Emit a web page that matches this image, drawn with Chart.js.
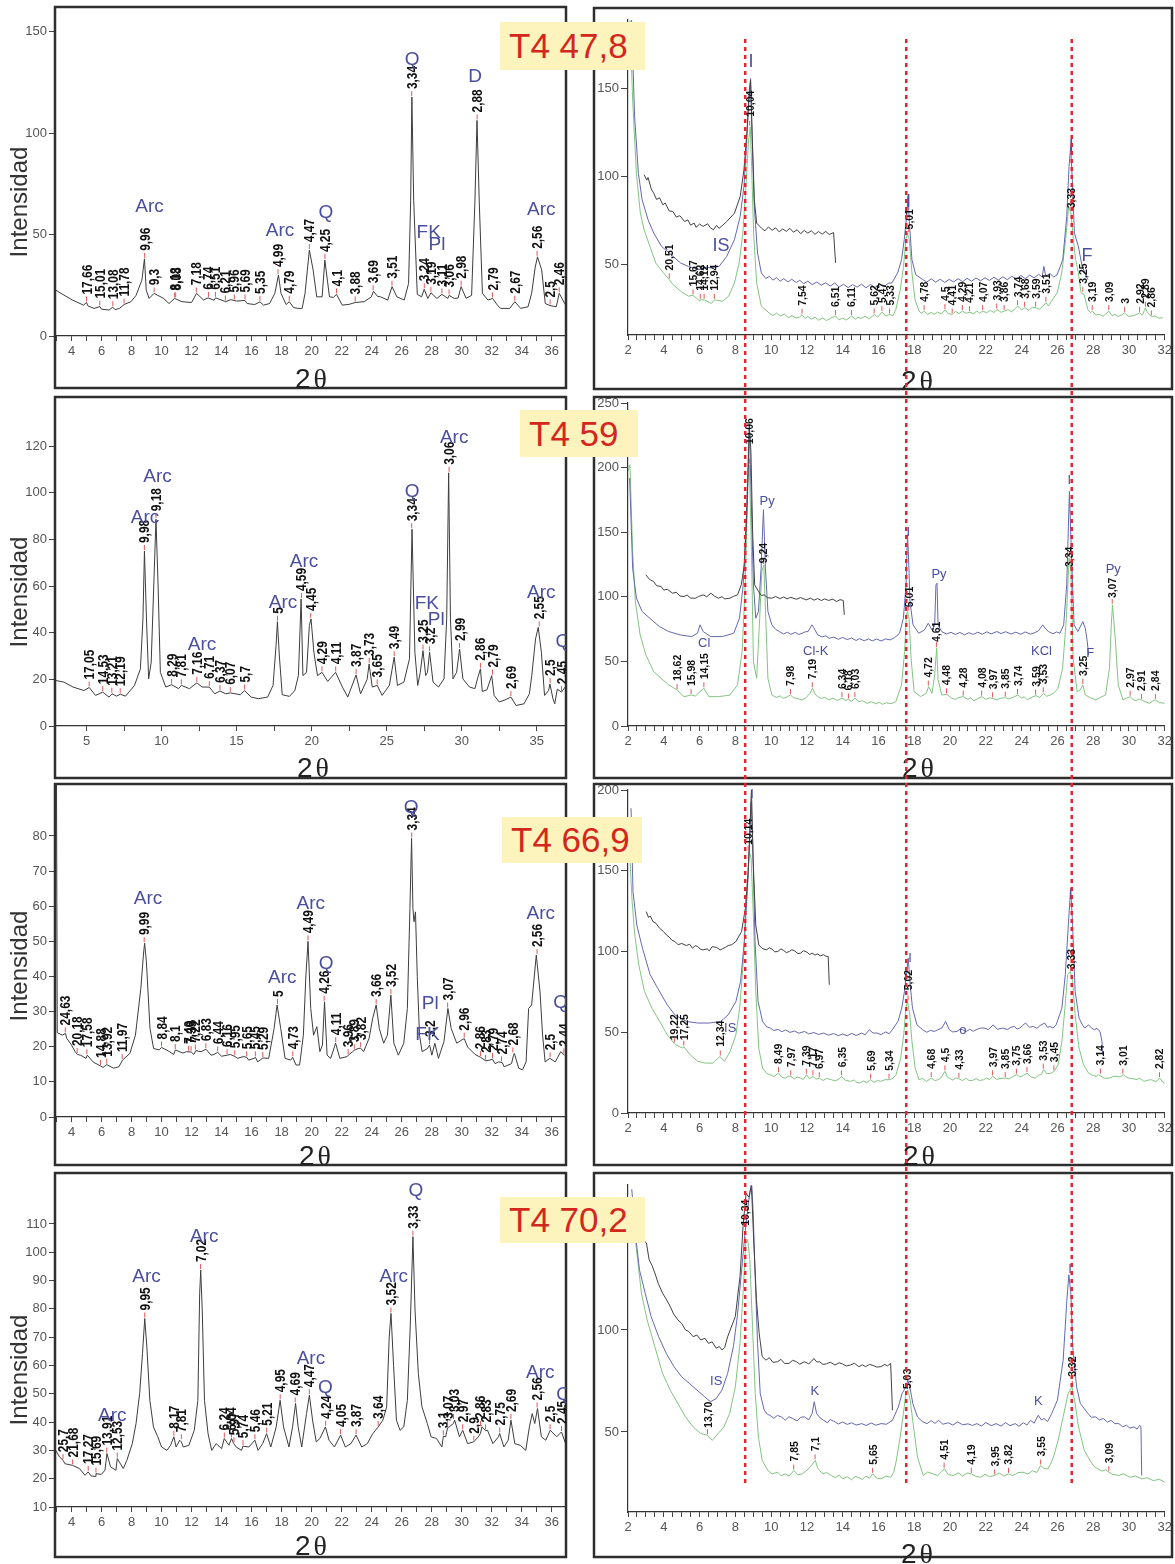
<!DOCTYPE html>
<html>
<head>
<meta charset="utf-8">
<script src="https://cdn.jsdelivr.net/npm/chart.js@4.4.1/dist/chart.umd.min.js"></script>
<style>
  body { margin: 0; background: #fff; }
  #sheet { position: relative; width: 1175px; height: 1564px; overflow: hidden; }
  #sheet canvas { position: absolute; left: 0; top: 0; }
  .tag {
    position: absolute; z-index: 5; box-sizing: border-box;
    background: #fdf3bc; color: #d3271d;
    font: 35px "Liberation Sans", Arial, sans-serif;
    padding-left: 9px; white-space: nowrap;
  }
</style>
</head>
<body>
<div id="sheet">
  <canvas id="l1" width="1175" height="1564"></canvas>
  <canvas id="l2" width="1175" height="1564"></canvas>
  <canvas id="l3" width="1175" height="1564"></canvas>
  <canvas id="l4" width="1175" height="1564"></canvas>
  <canvas id="r1" width="1175" height="1564"></canvas>
  <canvas id="r2" width="1175" height="1564"></canvas>
  <canvas id="r3" width="1175" height="1564"></canvas>
  <canvas id="r4" width="1175" height="1564"></canvas>
  <div class="tag" style="left:500px;top:22px;width:145px;height:48px;line-height:48px">T4 47,8</div>
  <div class="tag" style="left:520px;top:410px;width:118px;height:47px;line-height:47px">T4 59</div>
  <div class="tag" style="left:502px;top:817px;width:140px;height:46px;line-height:46px">T4 66,9</div>
  <div class="tag" style="left:500px;top:1197px;width:145px;height:46px;line-height:46px">T4 70,2</div>
</div>
<script>
const W = 1175, H = 1564;
const LAMBDA = 1.5406; // Cu K-alpha, in angstrom
const FONT = '"Liberation Sans", Arial, sans-serif';

// whole-rock patterns, [2theta, counts]
const l1Trace = [[2.95,22.6],[3.3,21],[4.07,17.7],[4.8,15.2],[5.0,16.5],[5.1,14.8],[5.5,13.6],[5.9,14.5],[6.0,13.2],[6.5,12.8],[6.75,14.2],[6.9,13],[7.2,13.6],[7.5,15.5],[7.96,16.9],[8.3,20],[8.69,27.5],[8.86,38],[8.98,22.6],[9.17,18.5],[9.5,21],[10.14,18.5],[10.5,16],[10.87,18.5],[11.36,16.9],[12.0,16.5],[12.33,21],[12.8,17.7],[13.1,18.8],[13.5,17.6],[13.6,18.8],[14.27,16.9],[14.6,17.9],[15.0,17.2],[15.56,17.5],[15.7,16],[16.2,15.5],[16.56,16.8],[16.8,15.2],[17.2,16],[17.55,21],[17.79,30],[17.96,21],[18.3,15.5],[18.51,16.9],[18.8,14],[19.1,13.6],[19.37,13.6],[19.56,21],[19.85,42.3],[20.1,32.5],[20.34,19.3],[20.7,19.3],[20.88,37.4],[21.19,19.3],[21.45,19],[21.66,20.5],[22.04,15.2],[22.5,15.6],[22.9,16.5],[23.5,16.9],[23.98,19.3],[24.12,22],[24.4,19.5],[24.59,19.3],[25.07,17.7],[25.36,24.3],[25.68,19.3],[26.17,17.7],[26.46,25.9],[26.6,66.9],[26.68,117.7],[26.8,66.9],[27.04,20.5],[27.33,19.3],[27.5,23],[27.74,18.5],[27.95,21.3],[28.35,18.5],[28.68,20.5],[29.08,18.5],[29.16,20],[29.5,18.5],[29.76,18.7],[29.96,24.3],[30.29,18.6],[30.66,20],[30.88,66],[31.02,106.2],[31.17,66],[31.38,21],[31.75,17.7],[32.06,18.5],[32.4,15],[32.6,13.6],[33.2,13.6],[33.54,16.9],[33.93,13.6],[34.42,14.4],[34.66,21],[34.9,34],[35.05,39],[35.33,32.5],[35.57,16],[35.88,15],[36.3,14.4],[36.5,21],[36.9,15.5]];
const l2Trace = [[2.95,19.5],[3.5,18.8],[4.1,16.7],[4.83,15.2],[5.18,16.5],[5.6,13.1],[6.08,14.5],[6.5,12.4],[6.7,13.8],[7.0,12.8],[7.25,13.6],[7.6,12.8],[8.2,17.4],[8.59,24.5],[8.76,45.9],[8.86,75],[9.0,45],[9.14,20.2],[9.31,27.3],[9.48,60],[9.63,88.6],[9.77,60],[9.92,23],[10.28,16.7],[10.67,17.7],[11.13,16],[11.32,17.4],[11.86,16],[12.35,18.5],[12.7,16.7],[13.18,16.7],[13.55,13.8],[13.89,15],[14.28,13.8],[14.58,14.2],[15.25,13.4],[15.53,15.2],[15.97,12.4],[16.46,11.7],[17.07,12.4],[17.43,17.4],[17.63,34.5],[17.72,44.7],[17.85,30],[18.04,13.4],[18.52,12.7],[18.88,15.2],[19.12,21.6],[19.3,54.4],[19.42,21.6],[19.66,23],[19.85,43],[19.96,45.9],[20.15,31.6],[20.39,21.6],[20.69,23],[21.07,19.1],[21.6,23],[22.05,16.7],[22.41,12.4],[22.96,21.9],[23.26,13.8],[23.7,20],[23.83,26.6],[24.04,16.7],[24.37,17.4],[24.7,13.1],[25.18,17.4],[25.5,29.5],[25.72,17.4],[26.15,18.8],[26.52,28.8],[26.69,84.3],[26.88,31.6],[27.07,17.4],[27.24,23],[27.42,32.3],[27.6,21.6],[27.72,23],[27.86,31.6],[28.09,18.8],[28.45,16.7],[28.82,20.2],[29.0,45.9],[29.13,108.5],[29.25,45.9],[29.42,20.2],[29.66,23],[29.86,33],[30.08,20.2],[30.52,16.7],[30.88,16],[31.05,20.2],[31.25,24.5],[31.37,14.8],[31.68,15.5],[32.0,21.6],[32.16,13.1],[32.5,10.3],[32.82,11],[33.28,12.4],[33.62,8.8],[34.15,9.5],[34.51,13.8],[34.67,21.6],[34.92,37.3],[35.1,42.3],[35.31,31.6],[35.52,13.1],[35.79,15.2],[35.88,18],[36.08,11.7],[36.2,9.5],[36.37,15.8],[36.65,14.5],[36.9,16.7]];
const l3Trace = [[3.0,94.8],[3.05,24],[3.39,23.3],[3.6,23.8],[3.68,22.4],[4.0,20.5],[4.24,18.6],[4.4,17.8],[4.6,17.6],[4.97,16.7],[5.05,17.6],[5.46,15.6],[5.95,14.5],[6.1,14.1],[6.35,14.9],[6.8,13.9],[7.16,14.3],[7.4,16.2],[7.89,18.1],[8.26,23.3],[8.62,36.6],[8.79,46.1],[8.87,49.5],[8.99,44.2],[9.23,25.2],[9.47,19.5],[9.84,19.1],[10.0,19.8],[10.45,18.8],[10.81,17.8],[10.92,19.1],[11.42,18.2],[11.66,18.6],[11.97,18.5],[12.15,17.8],[12.28,18.9],[12.64,18.6],[12.96,19.3],[13.3,17.6],[13.49,17.8],[13.74,18.4],[14.0,17.3],[14.37,17.6],[14.58,17.8],[14.85,17.3],[15.07,16.7],[15.44,17.2],[15.68,17],[15.8,16.2],[16.17,16.7],[16.25,17],[16.41,15.7],[16.75,16.8],[17.14,16.7],[17.5,25.2],[17.7,31.9],[17.94,25.2],[18.23,16.7],[18.6,16.2],[18.74,17],[18.96,14.8],[19.2,14.8],[19.45,23.3],[19.62,40.4],[19.76,50],[19.94,30.9],[20.13,23.3],[20.35,25.7],[20.55,18.6],[20.72,20.5],[20.86,32.8],[21.03,17.6],[21.27,16.7],[21.6,21],[21.88,16.7],[22.37,17.2],[22.44,17.6],[22.73,18.6],[22.84,19],[23.1,19.5],[23.27,19.6],[23.46,18.6],[23.83,22.4],[24.07,28.1],[24.3,31.9],[24.51,25.2],[24.8,21],[25.05,23.3],[25.28,34.7],[25.48,21],[25.78,17.6],[26.14,21],[26.38,30.9],[26.55,59.4],[26.66,79.3],[26.75,59.4],[26.82,55.6],[26.92,58.4],[27.04,40],[27.19,23.3],[27.36,18.6],[27.72,19.5],[27.86,20.5],[28.01,17.6],[28.21,21],[28.45,16.7],[28.82,21.5],[29.08,30.9],[29.3,25.2],[29.67,21],[30.03,22],[30.17,22.3],[30.4,19.9],[30.89,17.8],[31.25,17],[31.6,16],[31.86,16.2],[32.05,16.5],[32.22,15.2],[32.47,15.7],[32.7,15.5],[32.83,14.3],[33.32,15.2],[33.45,17.5],[33.51,18.1],[33.8,13.9],[34.05,13.4],[34.29,15.7],[34.46,30.9],[34.66,31.9],[34.97,46.1],[35.22,35.6],[35.39,23.3],[35.56,15.7],[35.87,16.7],[36.24,15.7],[36.6,18.6],[36.85,17.6]];
const l4Trace = [[2.95,30],[3.2,27.7],[3.44,26.5],[3.56,25.3],[4.07,24.7],[4.53,23.6],[4.9,21.2],[5.11,22.4],[5.3,21],[5.58,20.8],[5.63,21.8],[5.99,21.5],[6.23,23],[6.36,28.9],[6.6,24.2],[6.96,23],[7.05,27.1],[7.45,23.6],[7.69,26.5],[8.05,32.4],[8.3,39.5],[8.54,50.1],[8.73,64.2],[8.88,76.6],[9.02,66.6],[9.22,47.7],[9.46,38.3],[9.75,34.8],[10.0,31.2],[10.36,30],[10.6,31.8],[10.82,34.8],[10.97,31.2],[11.21,33.6],[11.32,33],[11.45,31.2],[11.82,31.8],[12.18,37.1],[12.42,47.7],[12.54,85.5],[12.61,93.7],[12.71,79.6],[12.86,47.7],[13.1,35.9],[13.34,30],[13.64,32.4],[14.0,30.6],[14.18,34.2],[14.49,31.8],[14.66,34.2],[14.8,32.5],[14.97,31.2],[15.33,30],[15.42,31.5],[15.82,31.2],[16.22,33.6],[16.43,30],[16.74,32.4],[17.0,35.9],[17.28,31.2],[17.64,38.3],[17.9,47.7],[18.13,38.3],[18.49,31.2],[18.73,38.3],[18.93,46.6],[19.1,38.3],[19.34,31.2],[19.66,43],[19.85,49.5],[20.07,40.4],[20.31,33],[20.55,34.2],[20.92,38.3],[21.16,33.6],[21.52,31.2],[21.93,35.4],[22.25,31.2],[22.62,32.4],[22.96,35.4],[23.34,31.2],[23.71,32.4],[24.07,35.9],[24.44,38.3],[24.75,40.7],[25.0,45.4],[25.17,70.1],[25.29,78.4],[25.46,60],[25.65,40.7],[25.89,37.1],[26.14,38.3],[26.38,47.7],[26.57,73.7],[26.75,105.5],[26.89,79.6],[27.11,57.2],[27.35,45.4],[27.71,39.5],[27.96,34.8],[28.32,34.2],[28.68,31.2],[28.78,35],[28.93,34.8],[29.06,38],[29.17,38.3],[29.45,39.5],[29.53,40.7],[29.85,34.8],[30.07,37.1],[30.39,32.4],[30.8,33],[31.11,34.8],[31.25,36],[31.35,38.3],[31.6,37],[31.72,37.1],[32.08,32.4],[32.45,34.8],[32.53,36],[32.81,31.2],[33.1,33.6],[33.28,40.7],[33.54,32.4],[33.9,31.8],[34.27,30],[34.51,38.3],[34.7,43],[34.87,39.5],[35.05,44.8],[35.31,34.8],[35.6,33.6],[35.9,37.1],[36.33,34.8],[36.65,36.5],[37.0,31.2]];

// oriented clay fraction: air-dried (green), glycolated (blue), heated (black)
const r1Black = [[2.9,101],[3.05,98],[3.12,99.5],[3.3,93],[3.44,90.5],[3.6,87],[3.76,88],[3.95,84],[4.08,85],[4.3,80.5],[4.51,80.2],[4.7,77],[4.9,77.8],[5.16,74.5],[5.35,75.4],[5.5,72.4],[5.7,73.6],[5.8,71.2],[6.0,73],[6.2,71.7],[6.45,73.2],[6.6,71],[6.77,69.8],[6.95,72.3],[7.09,70.6],[7.3,72.4],[7.52,74.5],[7.7,76.5],[7.95,79.2],[8.27,88.7],[8.48,103.8],[8.64,124.5],[8.76,143.4],[8.85,154.7],[8.94,124],[9.06,86.8],[9.19,73.6],[9.45,70.8],[9.65,69.2],[9.85,71.4],[10.05,69.5],[10.25,70.9],[10.45,68.6],[10.65,70.3],[10.85,68.9],[11.05,70.6],[11.25,68.4],[11.45,69.8],[11.65,67.6],[11.85,69.4],[12.05,67.9],[12.25,69.2],[12.45,67.2],[12.65,68.8],[12.85,67.3],[13.05,68.9],[13.25,67.1],[13.49,68.2],[13.6,51]];
const r1Blue = [[2.19,192],[2.37,134],[2.58,101.9],[2.79,86.8],[3.12,75.5],[3.44,67.9],[3.87,60.4],[4.3,56.6],[4.94,50.9],[5.37,49],[5.7,48],[6.02,47.2],[6.4,48.5],[6.66,48.1],[7.09,49],[7.52,54.7],[7.95,64.2],[8.27,77.4],[8.48,94.3],[8.64,120.8],[8.76,147.2],[8.85,155.7],[8.94,120.8],[9.06,83],[9.24,56.6],[9.45,45.3],[9.7,42.1],[9.9,43.3],[10.1,41.2],[10.3,42.6],[10.5,40.5],[10.7,42],[10.95,40.2],[11.15,41.7],[11.4,39.8],[11.6,41.1],[11.81,39.2],[12.05,40.6],[12.3,38.6],[12.55,40.1],[12.8,38.3],[13.05,39.7],[13.3,37.8],[13.55,39.5],[13.8,37.3],[14.05,38.8],[14.3,36.9],[14.55,38.6],[14.8,37.2],[15.05,38.9],[15.3,36.8],[15.55,38.7],[15.8,37],[16.05,38.9],[16.3,37.4],[16.55,39.4],[16.75,39.6],[17.07,45.3],[17.29,52.8],[17.44,64.2],[17.57,77.4],[17.65,88.7],[17.74,71.7],[17.87,52.8],[18.08,44.3],[18.47,41.5],[18.7,40.1],[18.95,41.9],[19.2,40],[19.45,41.7],[19.7,39.9],[19.95,41.6],[20.2,40.2],[20.45,42],[20.7,40.3],[20.95,42.2],[21.2,40.6],[21.45,42.4],[21.7,40.8],[21.95,42.5],[22.2,41],[22.45,42.8],[22.7,41.2],[22.95,43.1],[23.2,41.4],[23.45,43.4],[23.7,41.7],[23.95,43.9],[24.2,42],[24.45,44],[24.7,42.5],[24.95,44.5],[25.15,43],[25.24,49],[25.35,43.4],[25.6,44.8],[25.8,42.9],[25.98,44.2],[26.3,52.8],[26.52,77.4],[26.65,105.7],[26.74,117],[26.85,94.3],[26.95,67.9],[27.17,60.4],[27.38,49],[27.7,41.5]];
const r1Green = [[2.1,192],[2.26,143.4],[2.47,101.9],[2.69,79.2],[2.9,69.8],[3.22,60.4],[3.55,50.9],[3.98,45.3],[4.3,41.5],[4.51,38.7],[4.94,34.9],[5.37,32.1],[5.64,32.5],[6.02,29.2],[6.04,30],[6.26,30],[6.66,27.9],[6.83,30],[7.3,29.2],[7.63,32.1],[7.95,39.6],[8.21,50.9],[8.42,67.9],[8.59,94.3],[8.74,120.8],[8.83,128.3],[8.91,105.7],[9.02,67.9],[9.19,39.6],[9.45,26.4],[9.88,22.6],[10.1,21],[10.3,22.4],[10.52,20.8],[10.75,21.9],[10.95,19.9],[11.17,21],[11.4,19.6],[11.6,20.3],[11.73,21.5],[11.9,19.4],[12.05,20.6],[12.24,18.9],[12.45,20.1],[12.65,18.4],[12.89,19.6],[13.1,18.2],[13.35,19.7],[13.6,20.8],[13.8,18.6],[14.0,19.7],[14.18,18.5],[14.35,19.6],[14.5,20.8],[14.7,18.9],[14.85,20.1],[15.03,19.4],[15.25,20.7],[15.45,19.2],[15.6,20.2],[15.77,21.7],[15.95,20.1],[16.2,23],[16.4,20.8],[16.63,21.7],[16.8,20.9],[16.97,24.5],[17.22,35.8],[17.4,49],[17.53,64.2],[17.61,67.9],[17.72,64.2],[17.87,45.3],[18.04,30.2],[18.26,23.6],[18.4,22.4],[18.56,23.6],[18.75,21.7],[18.95,22.9],[19.11,21.7],[19.3,23],[19.5,22],[19.73,24.2],[19.9,22.1],[20.13,21.7],[20.3,23.4],[20.5,22.2],[20.69,23.6],[20.9,22.3],[21.1,23],[21.3,22],[21.5,23.7],[21.65,22.4],[21.84,23.6],[22.05,22.6],[22.25,24],[22.45,22.8],[22.63,24.5],[22.85,22.9],[23.04,23.6],[23.25,24.4],[23.45,23.1],[23.6,24.8],[23.79,26.4],[24.0,24.3],[24.18,25.5],[24.4,24.1],[24.6,25.7],[24.8,25.5],[25.0,24.6],[25.2,26.4],[25.36,28.3],[25.5,26.5],[25.66,29.2],[25.99,33.9],[26.24,45.3],[26.46,64.2],[26.63,83],[26.76,79.2],[26.89,64.2],[27.02,52.8],[27.17,45.3],[27.32,34],[27.49,33],[27.7,24.5],[27.85,22.6],[27.95,23.6],[28.15,21.4],[28.35,21.7],[28.55,20.6],[28.7,21.9],[28.87,23.6],[29.05,21],[29.21,21.7],[29.4,20.5],[29.6,21.5],[29.76,22.6],[29.95,20.6],[30.17,20.8],[30.4,21.5],[30.6,22.6],[30.75,21.3],[30.92,25.5],[31.03,22.6],[31.25,20.5],[31.46,20.8],[31.65,19.6],[31.89,19.8]];

const r2Black = [[3.0,117],[3.2,113.5],[3.43,111.8],[3.6,108.6],[3.85,108],[4.0,105.2],[4.2,105.8],[4.49,102.8],[4.7,103.5],[4.9,100.6],[5.13,100.2],[5.3,101.4],[5.5,99],[5.77,98.9],[5.95,100.3],[6.2,101.5],[6.4,100],[6.63,102.8],[6.85,100.4],[7.05,98.9],[7.25,100.1],[7.4,98.4],[7.69,98.9],[7.9,100.4],[8.12,101.5],[8.33,109.2],[8.5,124.7],[8.63,160.9],[8.72,199.6],[8.78,233.2],[8.87,212.6],[8.97,148],[9.08,109.2],[9.3,104],[9.45,101],[9.61,101.5],[9.8,99.3],[10.04,98.9],[10.25,100.2],[10.5,98.6],[10.7,99.8],[10.89,98.4],[11.1,99.6],[11.4,98.1],[11.65,99.4],[11.96,97.6],[12.2,98.9],[12.4,97.4],[12.6,98.6],[12.81,97.1],[13.0,98.4],[13.2,97.2],[13.45,98.1],[13.66,96.3],[13.85,97.8],[14.03,97.2],[14.09,86]];
const r2Blue = [[2.09,191.9],[2.26,122.2],[2.47,98.9],[2.79,88.6],[3.22,83.4],[3.75,77],[4.28,73.1],[4.92,70.5],[5.56,69.2],[5.88,71.8],[6.03,78.3],[6.2,73.1],[6.63,69.2],[7.27,69.2],[7.91,71.8],[8.23,83.4],[8.44,109.2],[8.61,160],[8.72,207.4],[8.78,233],[8.87,185.2],[9.01,109.2],[9.14,83.4],[9.29,88.6],[9.44,122.2],[9.57,167.4],[9.68,122.2],[9.82,88.6],[10.04,78.3],[10.25,74.8],[10.46,73.1],[10.7,71.2],[10.9,72.6],[11.1,71],[11.35,72.5],[11.55,70.8],[11.74,71.8],[11.9,72.9],[12.06,73.1],[12.28,78.3],[12.38,76.2],[12.6,70.5],[12.85,68.9],[13.05,69.8],[13.24,67.9],[13.5,68.8],[13.75,67.1],[14.0,68.6],[14.25,66.9],[14.5,68.1],[14.75,66.2],[14.94,67.6],[15.2,66],[15.45,67.4],[15.65,65.9],[15.9,67.3],[16.15,65.8],[16.4,67.4],[16.65,66.6],[16.9,68.4],[17.18,71.8],[17.39,83.4],[17.54,109.2],[17.62,148],[17.67,135],[17.76,96.3],[17.93,78.3],[18.25,71.8],[18.57,74.4],[18.78,79.5],[18.99,74.4],[19.14,78.3],[19.21,109.2],[19.27,110.5],[19.33,78.3],[19.53,73.1],[19.8,71.2],[20.05,72.5],[20.3,70.8],[20.55,72.4],[20.8,70.6],[21.05,72.2],[21.3,70.9],[21.55,72.6],[21.8,71],[22.05,72.9],[22.3,71.3],[22.62,73.1],[22.85,71.5],[23.1,73],[23.4,71.2],[23.68,72.6],[23.95,71],[24.2,72.8],[24.5,71.1],[24.75,72.3],[24.95,73.8],[25.18,78.3],[25.35,75],[25.5,73.1],[25.75,71.4],[25.95,72.8],[26.14,71.8],[26.35,78.3],[26.52,109.2],[26.67,181.6],[26.78,135],[26.93,78.3],[27.14,73.1],[27.42,80.8],[27.56,75.6],[27.67,65.3],[27.74,55]];
const r2Green = [[2.0,197],[2.11,202.2],[2.26,135],[2.41,96.3],[2.68,70.5],[3.0,55],[3.43,42.1],[3.85,36.9],[4.28,31.8],[4.74,27.9],[5.13,22.7],[5.53,24],[5.77,23.2],[6.24,29.2],[6.52,22.7],[7.05,22.7],[7.69,23.9],[8.12,31.8],[8.38,57.6],[8.55,109.2],[8.7,186.7],[8.78,202.2],[8.9,135],[9.01,49.8],[9.19,36.9],[9.36,83.4],[9.48,119.6],[9.59,124.7],[9.7,83.4],[9.82,36.9],[10.04,24],[10.3,22.1],[10.5,23.3],[10.68,21.4],[10.9,22.5],[11.08,24],[11.25,21.9],[11.5,21.1],[11.74,20.2],[11.95,21.9],[12.17,25.3],[12.31,29.2],[12.45,24.6],[12.6,22.7],[12.8,21.3],[13.0,22.2],[13.24,20.2],[13.45,21.5],[13.7,19.8],[13.96,21.6],[14.15,19.9],[14.33,20.5],[14.5,19.1],[14.69,21.6],[14.9,18.9],[15.1,19.6],[15.37,17.6],[15.6,18.8],[15.85,17.2],[16.05,18.4],[16.22,16.8],[16.45,18.1],[16.7,17.2],[16.97,18.9],[17.29,31.8],[17.46,57.6],[17.56,86],[17.62,88.6],[17.71,83.4],[17.82,52.4],[17.99,26.6],[18.35,22.7],[18.67,25.3],[18.8,30.5],[18.99,25.3],[19.14,39.5],[19.25,60.2],[19.33,36.2],[19.53,24],[19.82,24.5],[20.05,21.8],[20.27,20.5],[20.5,22.1],[20.75,22.7],[21.0,20.6],[21.15,21.8],[21.34,19.4],[21.55,21.2],[21.78,22.7],[22.0,20.6],[22.2,21.8],[22.39,21.4],[22.6,20.3],[22.85,21.6],[23.1,21.9],[23.3,20.9],[23.55,22.4],[23.79,24],[24.0,21.6],[24.15,22.6],[24.32,20.2],[24.55,22.2],[24.8,23.5],[25.0,22],[25.23,25.3],[25.4,23],[25.6,24],[25.8,25.6],[26.03,29.2],[26.29,44.7],[26.5,83.4],[26.65,130],[26.76,119.6],[26.88,52.4],[27.1,26.6],[27.27,27.9],[27.42,31.8],[27.56,24],[27.85,21.8],[28.16,20.2],[28.4,22.1],[28.69,24],[28.91,44.7],[29.01,78.3],[29.08,93.7],[29.23,67.9],[29.4,31.8],[29.66,20.2],[29.85,21.5],[30.07,22.7],[30.25,20.3],[30.4,19.4],[30.55,20.9],[30.7,20.2],[30.9,18.8],[31.15,17.6],[31.3,19.1],[31.47,20.2],[31.7,18.1],[32.0,17.6]];

const r3Black = [[3.02,124.7],[3.15,121],[3.24,122],[3.4,118.5],[3.56,117.5],[3.75,114.6],[3.98,112.4],[4.15,110.2],[4.3,109],[4.45,107],[4.62,106.2],[4.8,104.2],[5.0,105],[5.26,103.7],[5.45,104.5],[5.6,102],[5.75,103.6],[5.9,103.1],[6.05,101.3],[6.2,101],[6.43,101.6],[6.55,100.4],[6.7,103],[6.96,102.5],[7.15,101],[7.3,101.8],[7.45,102.6],[7.6,103.7],[7.8,104.2],[8.03,106.2],[8.35,112.4],[8.56,126.8],[8.71,147.4],[8.82,178.4],[8.9,201],[8.99,157.7],[9.14,116.5],[9.31,104.1],[9.5,101.9],[9.73,101],[9.9,102.3],[10.05,101.5],[10.2,99.8],[10.37,100],[10.55,101.6],[10.7,100.6],[10.85,99.3],[11.01,100],[11.15,101.1],[11.3,100.5],[11.5,98.7],[11.65,99],[11.8,100.5],[12.0,99.6],[12.15,98.2],[12.29,99],[12.45,97.8],[12.6,98.5],[12.75,97.3],[12.93,98],[13.05,97.1],[13.19,96.9],[13.25,79.4]];
const r3Blue = [[2.17,188.7],[2.28,137],[2.49,116.5],[2.81,102],[3.24,85.6],[3.66,77.3],[4.19,67],[4.62,60.8],[5.26,56.7],[5.9,55.7],[6.54,55.7],[7.18,56.7],[7.6,60.8],[8.03,69],[8.29,81.4],[8.5,106.2],[8.67,137.1],[8.8,168],[8.88,192.8],[8.97,168],[9.1,106.2],[9.27,69],[9.52,56.7],[9.75,53.4],[9.95,52.6],[10.15,51.1],[10.4,51.8],[10.6,50.3],[10.8,51.5],[11.05,49.9],[11.3,50.8],[11.55,49.4],[11.87,50.5],[12.1,49],[12.4,49.8],[12.65,48.6],[12.93,49.5],[13.2,48.2],[13.5,49.2],[13.75,47.9],[14.0,48.9],[14.25,47.8],[14.5,49.3],[14.75,48],[15.06,49.5],[15.25,48.4],[15.49,51.5],[15.7,49.5],[15.91,49.5],[16.15,48.6],[16.4,50.2],[16.6,49.1],[16.77,51.5],[17.09,56.7],[17.3,64.9],[17.45,75.3],[17.58,87.6],[17.66,95.9],[17.75,82],[17.9,64.9],[18.15,54.6],[18.47,51.5],[18.7,50],[18.9,51.2],[19.11,50.5],[19.3,51.4],[19.54,52.6],[19.75,56.7],[19.96,51.5],[20.15,50.2],[20.39,50.5],[20.55,51.9],[20.71,51.5],[20.9,50.4],[21.1,51.8],[21.3,50.6],[21.45,51.5],[21.7,52.6],[21.9,52.6],[22.15,51.6],[22.41,54.6],[22.65,51.8],[22.95,52.6],[23.2,51.7],[23.4,53.1],[23.59,53.6],[23.75,52],[23.9,52.6],[24.05,54.2],[24.22,55.7],[24.45,53],[24.65,53.6],[24.85,52.4],[25.05,54.3],[25.29,55.7],[25.45,53],[25.6,53.6],[25.75,52.6],[25.93,54.6],[26.25,64.9],[26.44,85.6],[26.61,116.5],[26.74,139.2],[26.85,116.5],[26.99,75.3],[27.21,58.8],[27.4,54.5],[27.53,52.6],[27.74,54.6],[27.9,52.7],[28.06,51.5],[28.2,52.4],[28.38,50.5],[28.49,44.3],[28.53,36.1]];
const r3Green = [[2.06,168],[2.23,130.9],[2.38,110.3],[2.6,91.8],[2.92,75.3],[3.34,64.9],[3.77,56.7],[4.19,48.5],[4.59,43],[4.66,42.3],[5.05,40.2],[5.12,41],[5.47,36.1],[5.9,32],[6.33,30.9],[6.75,30.9],[7.14,35],[7.39,32],[7.71,38.1],[8.03,48.5],[8.24,64.9],[8.46,95.9],[8.63,137.1],[8.78,161.9],[8.88,157.7],[8.99,126.8],[9.14,75.3],[9.31,40.2],[9.52,27.8],[9.75,24.5],[9.95,23.7],[10.15,22.6],[10.41,24.7],[10.6,22.1],[10.8,21.6],[10.95,22.8],[11.1,22.7],[11.3,21.1],[11.45,22.3],[11.65,21.6],[11.8,20.8],[11.97,23.7],[12.15,21.2],[12.34,22.7],[12.5,21],[12.72,21.6],[12.9,20.1],[13.1,21.4],[13.36,20.6],[13.6,19.9],[13.8,21.1],[13.94,22.7],[14.15,20.3],[14.42,19.6],[14.65,20.4],[14.8,18.9],[14.96,18.6],[15.15,19.9],[15.35,18.8],[15.56,20.6],[15.75,19],[15.95,20.2],[16.13,19.6],[16.35,20.6],[16.59,20.6],[16.8,21.4],[16.98,23.7],[17.24,34],[17.41,48.5],[17.53,64.9],[17.62,69.1],[17.75,60.8],[17.87,44.3],[18.05,27.8],[18.26,20.6],[18.45,21.4],[18.68,19.6],[18.85,20.8],[18.95,21.6],[19.15,20.1],[19.32,20.6],[19.5,21.8],[19.71,25.8],[19.85,22.3],[19.96,21.6],[20.15,20.4],[20.3,21.7],[20.49,21.2],[20.7,20.1],[20.9,21.5],[21.05,20.2],[21.24,20],[21.45,21.3],[21.65,20.1],[21.88,20.6],[22.05,21.7],[22.2,20.6],[22.39,22.7],[22.6,20.8],[22.85,21.4],[23.1,21.6],[23.3,21.1],[23.5,22.5],[23.73,23.7],[23.9,22.4],[24.1,23.1],[24.3,24.7],[24.5,22.6],[24.76,21.6],[24.95,23.4],[25.1,23.8],[25.23,26.8],[25.4,24.5],[25.6,24.4],[25.82,25.8],[26.04,29.9],[26.25,44.3],[26.42,64.9],[26.57,85.6],[26.72,87.6],[26.85,81.4],[26.99,60.8],[27.21,40.2],[27.46,29.9],[27.74,24.7],[27.95,23.4],[28.17,22.7],[28.3,23.8],[28.43,22.7],[28.65,21.5],[28.91,21.6],[29.1,22.6],[29.34,22.7],[29.5,22.3],[29.68,23.7],[29.9,21.9],[30.19,21.2],[30.45,20.8],[30.6,21.5],[30.83,19.6],[31.05,20.3],[31.26,20.6],[31.5,19.4],[31.73,21.6],[31.88,19.2],[32.0,18.6]];

const r4Black = [[2.81,144.3],[3.03,142.6],[3.18,134.4],[3.35,131.5],[3.5,127.9],[3.7,122.6],[3.93,118],[4.1,115.6],[4.36,111.5],[4.55,107.8],[4.79,104.9],[5.0,103.2],[5.21,100],[5.4,99.2],[5.64,96.7],[5.85,97.5],[6.07,95.1],[6.3,95.9],[6.5,93.4],[6.7,94.2],[6.93,91],[7.1,91.9],[7.25,90.2],[7.4,91.3],[7.57,96.7],[8.0,106.6],[8.26,126.2],[8.43,150.8],[8.6,167],[8.75,165],[8.9,170.5],[9.03,142.6],[9.18,114.8],[9.33,98.4],[9.5,86.9],[9.71,85.2],[9.9,86.4],[10.1,84.1],[10.36,84.4],[10.55,85.6],[10.75,83.6],[11.0,83.6],[11.2,85.1],[11.4,84.5],[11.6,83.2],[11.86,84.4],[12.1,83.4],[12.25,84.6],[12.39,86],[12.55,84.3],[12.71,84.4],[12.9,83.1],[13.1,83.4],[13.3,84.2],[13.57,82.8],[13.8,83.9],[14.0,83.3],[14.2,82.3],[14.43,82.8],[14.65,83.7],[14.9,82],[15.1,82.9],[15.28,82],[15.5,83.1],[15.7,82.6],[15.9,81.8],[16.14,82],[16.35,83.1],[16.5,82.4],[16.68,83.6],[16.78,60.7]];
const r4Blue = [[2.21,168.9],[2.43,145.9],[2.64,129.5],[2.96,118],[3.29,106.6],[3.71,96.7],[4.14,88.5],[4.57,82],[5.0,77],[5.43,73.8],[5.86,70.5],[6.29,67.2],[6.61,64.8],[6.93,66.4],[7.25,70.5],[7.57,78.7],[7.89,91.8],[8.11,106.6],[8.32,126.2],[8.54,147.5],[8.69,159],[8.81,167.2],[8.9,172.1],[8.99,159],[9.11,126.2],[9.24,93.4],[9.39,68.9],[9.61,60.7],[9.8,58.6],[9.93,58.2],[10.15,56.7],[10.35,58.1],[10.57,57.4],[10.8,55.8],[11.0,57.5],[11.21,56.6],[11.45,55.4],[11.65,57.2],[11.86,57.4],[12.1,56],[12.29,59],[12.41,64.8],[12.54,59],[12.75,56.8],[12.93,55.7],[13.15,54.5],[13.3,56.1],[13.5,55.3],[13.75,53.9],[14.0,54.9],[14.25,53.7],[14.5,54.5],[14.75,53.4],[15.07,54.1],[15.3,53.2],[15.6,54.4],[15.85,53.3],[16.14,54.1],[16.45,53.8],[16.78,55.7],[17.11,62.3],[17.32,68.9],[17.53,72.1],[17.64,75.4],[17.75,72.1],[17.92,63.9],[18.18,57.4],[18.45,55.1],[18.71,54.1],[18.95,55.6],[19.15,54.2],[19.36,55.7],[19.6,53.8],[19.9,54.5],[20.15,53.4],[20.43,54.9],[20.7,53.5],[21.0,54],[21.25,53.2],[21.5,54.1],[21.75,52.9],[22.0,54.6],[22.3,53.1],[22.57,54.1],[22.85,52.9],[23.1,54.6],[23.35,53.1],[23.64,54.1],[23.85,52.8],[24.1,54.5],[24.3,53.4],[24.5,55.7],[24.7,54.3],[24.93,58.2],[25.1,55.9],[25.25,56.6],[25.45,55.1],[25.68,59],[26.0,65.6],[26.32,85.2],[26.53,114.8],[26.64,127],[26.75,118],[26.86,91.8],[27.07,72.1],[27.28,64],[27.71,59],[27.9,57.2],[28.14,57.4],[28.35,55.9],[28.57,56.6],[28.8,54.8],[29.0,55.7],[29.2,54.1],[29.43,54.1],[29.65,52.6],[29.86,53.3],[30.05,51.9],[30.28,52.5],[30.45,51.4],[30.6,53.3],[30.67,52.5],[30.71,28.7]];
const r4Green = [[2.43,142.6],[2.54,134.4],[2.75,118],[3.07,104.9],[3.5,91.8],[3.93,78.7],[4.36,70.5],[4.79,63.9],[5.21,57.4],[5.64,52.5],[6.07,49.2],[6.45,48.4],[6.71,45.9],[7.04,49.2],[7.36,52.5],[7.68,59],[8.0,72.1],[8.26,93.4],[8.43,118],[8.58,142.6],[8.69,144.3],[8.81,134.4],[8.96,101.6],[9.11,68.9],[9.29,47.5],[9.5,36.1],[9.82,31.1],[10.05,29.4],[10.36,30.3],[10.55,28.6],[10.79,29.5],[11.0,28.4],[11.27,31.1],[11.5,29],[11.75,29.5],[11.95,30.9],[12.18,32.8],[12.47,36.1],[12.6,32.4],[12.71,31.1],[12.9,29.5],[13.1,30.2],[13.36,28.7],[13.6,27.6],[13.8,28.9],[14.0,27],[14.25,28.1],[14.5,26.6],[14.7,28.2],[14.86,27.8],[15.1,26.7],[15.3,28.4],[15.5,27.3],[15.68,29.5],[15.9,27.4],[16.14,27],[16.4,28.4],[16.68,27.8],[16.85,30.2],[17.0,36.1],[17.21,47.5],[17.39,59],[17.53,68.9],[17.64,70.5],[17.77,65.6],[17.96,52.5],[18.18,37.7],[18.5,28.7],[18.75,30.4],[19.04,29.5],[19.3,28.6],[19.5,30.3],[19.68,32],[19.9,29.1],[20.21,28.7],[20.45,30],[20.7,28.4],[20.95,29.9],[21.19,29.5],[21.45,28.2],[21.71,27.8],[21.95,29.3],[22.2,28.1],[22.49,28.7],[22.75,29.9],[23.0,28.4],[23.27,29.5],[23.5,28.6],[23.8,30.1],[24.07,30.3],[24.35,29.4],[24.6,31],[24.85,30.2],[25.06,33.6],[25.25,32.1],[25.46,31.9],[25.6,34],[25.78,37.7],[26.04,45.9],[26.32,57.4],[26.6,68.9],[26.81,72.1],[26.96,65.6],[27.18,52.5],[27.5,41],[27.82,36.1],[28.05,33.1],[28.25,32],[28.5,30.8],[28.7,31.5],[28.87,30.3],[29.1,29.2],[29.43,28.7],[29.7,29.5],[30.07,27.8],[30.35,28.5],[30.71,27],[31.0,27.6],[31.36,26.2],[31.7,26.8],[32.0,25.4]];

// d-spacings (angstrom) marked on each pattern; [text, y] pins the label height
const l1Peaks = ['17,66','15,01','13,08','11,78','9,96','9,3','8,13','8,08','7,18','6,74','6,51','6,21','5,96','5,69','5,35','4,99','4,79','4,47','4,25','4,1','3,88','3,69','3,51','3,34','3,24','3,19','3,11','3,06','2,98','2,88','2,79','2,67','2,56','2,5','2,46'];
const l2Peaks = ['17,05','14,53','13,21','12,19','9,98','9,18','8,29','7,81','7,16','6,71','6,37','6,07','5,7','5','4,59','4,45','4,29','4,11','3,87','3,73','3,65','3,49','3,34','3,25','3,2','3,06','2,99','2,86','2,79','2,69','2,55','2,5','2,45'];
const l3Peaks = ['24,63','20,18','17,58','14,88','13,92','11,97','9,99','8,84','8,1','7,49','7,39','7,22','6,83','6,44','6,16','5,95','5,65','5,45','5,29','5','4,73','4,49','4,26','4,11','3,96','3,89','3,82','3,66','3,52','3,34','3,2','3,07','2,96','2,86','2,83','2,79','2,74','2,68','2,56','2,5','2,44'];
const l4Peaks = ['25,7','21,68','17,27','15,69','13,91','12,53','9,95','8,17','7,81','7,02','6,24','6,04','5,97','5,74','5,46','5,21','4,95','4,69','4,47','4,24','4,05','3,87','3,64','3,52','3,33','3,1','3,07','3,03','2,97','2,9','2,86','2,83','2,75','2,69','2,56','2,5','2,45'];
const r1Peaks = ['20,51','15,67','14,62','14,12','12,94',['10,04',134],'7,54','6,51','6,11','5,62','5,47','5,33',['5,01',70],'4,78','4,5','4,41','4,29','4,21','4,07','3,93','3,86','3,74','3,68','3,59','3,51',['3,33',82],'3,25','3,19','3,09','3','2,92','2,89','2,86'];
const r2Peaks = ['18,62','15,98','14,15',['10,06',218],['9,24',126],'7,98','7,19','6,34','6,18','6,03',['5,01',92],'4,72',['4,61',65],'4,48','4,28','4,08','3,97','3,85','3,74','3,59','3,53',['3,34',123],'3,25',['3,07',99],'2,97','2,91','2,84'];
const r3Peaks = [['19,22',45],['17,25',45],['12,34',41],['10,14',166],'8,49','7,97','7,39','7,17','6,97','6,35','5,69','5,34',['5,02',76],'4,68','4,5','4,33','3,97','3,85','3,75','3,66','3,53','3,45',['3,33',89],'3,14','3,01','2,82'];
const r4Peaks = [['13,70',52],['10,34',151],'7,85','7,1','5,65',['5,03',71],'4,51','4,19','3,95','3,82','3,55',['3,32',77],'3,09'];

// mineral names: [name, 2theta, counts]
const l1Phases = [['Arc',9.2,63.6],['Arc',17.9,52],['Q',20.95,60.6],['Q',26.7,136],['D',30.9,127.5],['FK',27.8,50.8],['Pl',28.35,44.8],['Arc',35.3,62.3]];
const l2Phases = [['Arc',8.9,89.3],['Arc',9.73,106.8],['Arc',12.7,34.8],['Arc',18.1,53],['Arc',19.5,70.4],['Q',26.7,100.3],['FK',27.68,52.3],['Pl',28.3,45.4],['Arc',29.5,123.5],['Arc',35.3,57.3],['Q',36.75,35.9]];
const l3Phases = [['Arc',9.1,62.2],['Arc',18.04,39.7],['Arc',19.94,60.8],['Q',20.96,43.7],['Q',26.63,87.9],['Pl',27.9,32.1],['FK',27.72,23.3],['Arc',35.27,58],['Q',36.6,32.4]];
const l4Phases = [['Arc',6.72,42.1],['Arc',9.0,91.4],['Arc',12.84,105.5],['Arc',19.95,62.2],['Q',20.92,52.2],['Arc',25.48,91.4],['Q',26.94,121.8],['Arc',35.24,57.6],['Q',36.8,49.5]];
const r1Phases = [['I',8.87,165],['IS',7.2,60.8],['I',17.68,85.8],['I',26.78,117],['F',27.66,55]];
const r2Phases = [['Py',9.78,173.8],['Cl',6.26,64],['Cl-K',12.49,57.6],['Py',19.38,117],['KCl',25.11,57.6],['F',27.84,56],['Py',29.12,121],['I',26.67,190],['I',17.67,150]];
const r3Phases = [['I',8.93,197],['IS',7.71,52.6],['I',17.77,96],['o',20.71,51],['I',26.74,135]];
const r4Phases = [['I',8.9,168],['IS',6.93,75],['K',12.44,70],['K',24.93,64.8],['I',26.7,129.5]];

// illite reflections traced through the clay patterns
const GUIDE_2THETA = [8.55, 17.55, 26.8];

const GRAY = '#3d3d3d', BLACK = '#424242', BLUE = '#6468b0', GREEN = '#82c482';

function twoTheta(dText) {
  const d = parseFloat(dText.replace(',', '.'));
  return 2 * Math.asin(LAMBDA / (2 * d)) * 180 / Math.PI;
}

// highest point of a trace around x0 (used to seat the d-spacing labels)
function topNear(points, x0, span) {
  let best = -Infinity;
  for (let i = 0; i < points.length; i++) {
    const [x, y] = points[i];
    if (Math.abs(x - x0) <= span && y > best) best = y;
    if (i > 0) {
      const [xa, ya] = points[i - 1];
      if (xa <= x0 && x >= x0) {
        const yi = ya + (y - ya) * (x0 - xa) / (x - xa);
        if (yi > best) best = yi;
      }
    }
  }
  return best;
}

function drawTwoTheta(ctx, cx, baseline) {
  ctx.fillStyle = '#222';
  ctx.textBaseline = 'alphabetic';
  ctx.textAlign = 'left';
  ctx.font = '28px ' + FONT;
  const w2 = ctx.measureText('2').width;
  ctx.font = '28px "Liberation Serif", "Times New Roman", serif';
  const wt = ctx.measureText('\u03b8').width;
  const x0 = cx - (w2 + 3 + wt) / 2;
  ctx.font = '28px ' + FONT;
  ctx.fillText('2', x0, baseline);
  ctx.font = '28px "Liberation Serif", "Times New Roman", serif';
  ctx.fillText('\u03b8', x0 + w2 + 3, baseline);
}

function makePanel(cfg) {
  const left = cfg.side === 'left';
  const Y_W = left ? 50 : 40, X_H = 28;
  const labelPx = left ? 14 : 11;
  const squeeze = left ? 0.85 : 0.95;
  const gap = left ? 8 : 9;
  const isMajor = v => Math.abs(v / cfg.x.every - Math.round(v / cfg.x.every)) < 1e-6;

  const decor = {
    id: 'decor_' + cfg.id,
    afterDraw(chart) {
      const ctx = chart.ctx, xs = chart.scales.x, ys = chart.scales.y, f = cfg.frame;
      ctx.save();

      //Frame
      ctx.strokeStyle = '#2e2e2e';
      ctx.lineWidth = 2.5;
      ctx.strokeRect(f.left, f.top, f.right - f.left, f.bottom - f.top);

      //Peak labels and mineral names
      ctx.save();
      ctx.beginPath();
      ctx.rect(f.left, f.top, f.right - f.left, f.bottom - f.top);
      ctx.clip();
      const anchor = cfg.series[cfg.anchor].data;
      cfg.peaks.forEach(p => {
        const [text, yPin] = Array.isArray(p) ? p : [p, null];
        const t = twoTheta(text);
        if (t < xs.min || t > xs.max) return;
        const px = xs.getPixelForValue(t);
        const pyTrace = ys.getPixelForValue(topNear(anchor, t, 0.12));
        ctx.strokeStyle = '#e2585a';
        ctx.lineWidth = 1;
        ctx.beginPath();
        ctx.moveTo(px, pyTrace - 1);
        ctx.lineTo(px, pyTrace - 6);
        ctx.stroke();
        const py = yPin != null ? ys.getPixelForValue(yPin) : pyTrace - gap;
        ctx.save();
        ctx.translate(px, py);
        ctx.rotate(-Math.PI / 2);
        ctx.scale(squeeze, 1);
        ctx.fillStyle = '#111';
        ctx.font = 'bold ' + labelPx + 'px ' + FONT;
        ctx.textAlign = 'left';
        ctx.textBaseline = 'alphabetic';
        ctx.fillText(text, 0, labelPx * 0.36);
        ctx.restore();
      });
      ctx.fillStyle = '#4a4e9e';
      ctx.font = cfg.phaseSize + 'px ' + FONT;
      ctx.textAlign = 'center';
      ctx.textBaseline = 'middle';
      cfg.phases.forEach(([name, x, y]) => {
        ctx.fillText(name, xs.getPixelForValue(x), ys.getPixelForValue(y));
      });
      ctx.restore();

      //Axis titles
      drawTwoTheta(ctx, cfg.xTitle.x, cfg.xTitle.y);
      if (cfg.yTitle) {
        ctx.save();
        ctx.translate(cfg.yTitle.x, cfg.yTitle.y);
        ctx.rotate(-Math.PI / 2);
        ctx.fillStyle = '#333';
        ctx.font = '24px ' + FONT;
        ctx.textAlign = 'center';
        ctx.textBaseline = 'middle';
        ctx.fillText('Intensidad', 0, 0);
        ctx.restore();
      }

      //Red guide lines across the clay patterns
      if (cfg.guides) {
        ctx.strokeStyle = '#e3262b';
        ctx.lineWidth = 2.5;
        ctx.setLineDash([4, 4]);
        GUIDE_2THETA.forEach(g => {
          const gx = xs.getPixelForValue(g);
          ctx.beginPath();
          ctx.moveTo(gx, 39);
          ctx.lineTo(gx, 1485);
          ctx.stroke();
        });
      }
      ctx.restore();
    }
  };

  return new Chart(document.getElementById(cfg.id), {
    type: 'line',
    data: {
      datasets: cfg.series.map(s => ({
        data: s.data.map(([x, y]) => ({ x, y })),
        borderColor: s.color,
        borderWidth: 1,
        pointRadius: 0,
        tension: 0,
        fill: false
      }))
    },
    options: {
      responsive: false,
      animation: false,
      devicePixelRatio: 1,
      events: [],
      layout: {
        padding: {
          left: cfg.plot.left - Y_W,
          right: W - cfg.plot.right,
          top: cfg.plot.top,
          bottom: H - cfg.plot.bottom - X_H
        }
      },
      plugins: { legend: { display: false }, tooltip: { enabled: false } },
      scales: {
        x: {
          type: 'linear',
          position: 'bottom',
          min: cfg.x.min,
          max: cfg.x.max,
          afterFit: s => { s.height = X_H; },
          grid: { drawOnChartArea: false, drawTicks: true, tickLength: 5, color: '#444' },
          border: { display: true, color: '#333', width: 1.2 },
          ticks: {
            stepSize: cfg.x.step,
            includeBounds: false,
            autoSkip: false,
            maxRotation: 0,
            padding: 3,
            color: '#555',
            font: { size: 13, family: FONT },
            callback: v => isMajor(v) ? String(Math.round(v)) : ''
          }
        },
        y: {
          type: 'linear',
          min: cfg.y.min,
          max: cfg.y.max,
          afterFit: s => { s.width = Y_W; },
          afterBuildTicks: s => { s.ticks = s.ticks.filter(t => t.value <= cfg.y.tickMax); },
          grid: { drawOnChartArea: false, drawTicks: true, tickLength: left ? 6 : 7, color: '#444' },
          border: { display: true, color: '#333', width: 1.2 },
          ticks: {
            stepSize: cfg.y.step,
            includeBounds: false,
            padding: 2,
            color: '#555',
            font: { size: 13, family: FONT }
          }
        }
      }
    },
    plugins: [decor]
  });
}

const L_X = { min: 2.9, max: 36.95, step: 1, every: 2 };
const R_X = { min: 2, max: 32, step: 0.5, every: 2 };

const panels = [
  { id: 'l1', side: 'left', plot: { left: 55, right: 566, top: 7, bottom: 336 }, frame: { left: 55, top: 7, right: 566, bottom: 388 },
    x: L_X, y: { min: 0, max: 160.7, step: 50, tickMax: 150 }, series: [{ data: l1Trace, color: GRAY }], anchor: 0,
    peaks: l1Peaks, phases: l1Phases, phaseSize: 19, xTitle: { x: 311, y: 388 }, yTitle: { x: 20, y: 202 } },
  { id: 'l2', side: 'left', plot: { left: 55, right: 566, top: 397, bottom: 726 }, frame: { left: 55, top: 397, right: 566, bottom: 778 },
    x: { min: 2.9, max: 36.95, step: 2.5, every: 5 }, y: { min: 0, max: 141, step: 20, tickMax: 120 }, series: [{ data: l2Trace, color: GRAY }], anchor: 0,
    peaks: l2Peaks, phases: l2Phases, phaseSize: 19, xTitle: { x: 313, y: 777 }, yTitle: { x: 20, y: 592 } },
  { id: 'l3', side: 'left', plot: { left: 55, right: 566, top: 784, bottom: 1117 }, frame: { left: 55, top: 784, right: 566, bottom: 1165 },
    x: L_X, y: { min: 0, max: 94.8, step: 10, tickMax: 80 }, series: [{ data: l3Trace, color: GRAY }], anchor: 0,
    peaks: l3Peaks, phases: l3Phases, phaseSize: 19, xTitle: { x: 315, y: 1165 }, yTitle: { x: 20, y: 966 } },
  { id: 'l4', side: 'left', plot: { left: 55, right: 566, top: 1173, bottom: 1507 }, frame: { left: 55, top: 1173, right: 566, bottom: 1557 },
    x: L_X, y: { min: 10, max: 128, step: 10, tickMax: 110 }, series: [{ data: l4Trace, color: GRAY }], anchor: 0,
    peaks: l4Peaks, phases: l4Phases, phaseSize: 19, xTitle: { x: 311, y: 1555 }, yTitle: { x: 20, y: 1370 } },
  { id: 'r1', side: 'right', plot: { left: 628, right: 1166, top: 20, bottom: 335 }, frame: { left: 594, top: 8, right: 1172, bottom: 389 },
    x: R_X, y: { min: 10, max: 189, step: 50, tickMax: 150 },
    series: [{ data: r1Black, color: BLACK }, { data: r1Blue, color: BLUE }, { data: r1Green, color: GREEN }], anchor: 2,
    peaks: r1Peaks, phases: r1Phases, phaseSize: 18, xTitle: { x: 917, y: 390 } },
  { id: 'r2', side: 'right', plot: { left: 628, right: 1166, top: 403, bottom: 726 }, frame: { left: 594, top: 397, right: 1172, bottom: 778 },
    x: R_X, y: { min: 0, max: 250, step: 50, tickMax: 250 },
    series: [{ data: r2Black, color: BLACK }, { data: r2Blue, color: BLUE }, { data: r2Green, color: GREEN }], anchor: 2,
    peaks: r2Peaks, phases: r2Phases, phaseSize: 13, xTitle: { x: 918, y: 777 } },
  { id: 'r3', side: 'right', plot: { left: 628, right: 1166, top: 790, bottom: 1113 }, frame: { left: 594, top: 784, right: 1172, bottom: 1165 },
    x: R_X, y: { min: 0, max: 200, step: 50, tickMax: 200 },
    series: [{ data: r3Black, color: BLACK }, { data: r3Blue, color: BLUE }, { data: r3Green, color: GREEN }], anchor: 2,
    peaks: r3Peaks, phases: r3Phases, phaseSize: 13, xTitle: { x: 919, y: 1165 } },
  { id: 'r4', side: 'right', plot: { left: 628, right: 1166, top: 1185, bottom: 1512 }, frame: { left: 594, top: 1173, right: 1172, bottom: 1557 },
    x: R_X, y: { min: 10.8, max: 171, step: 50, tickMax: 150 },
    series: [{ data: r4Black, color: BLACK }, { data: r4Blue, color: BLUE }, { data: r4Green, color: GREEN }], anchor: 2,
    peaks: r4Peaks, phases: r4Phases, phaseSize: 13, xTitle: { x: 917, y: 1563 }, guides: true }
];

panels.forEach(makePanel);
</script>
</body>
</html>
